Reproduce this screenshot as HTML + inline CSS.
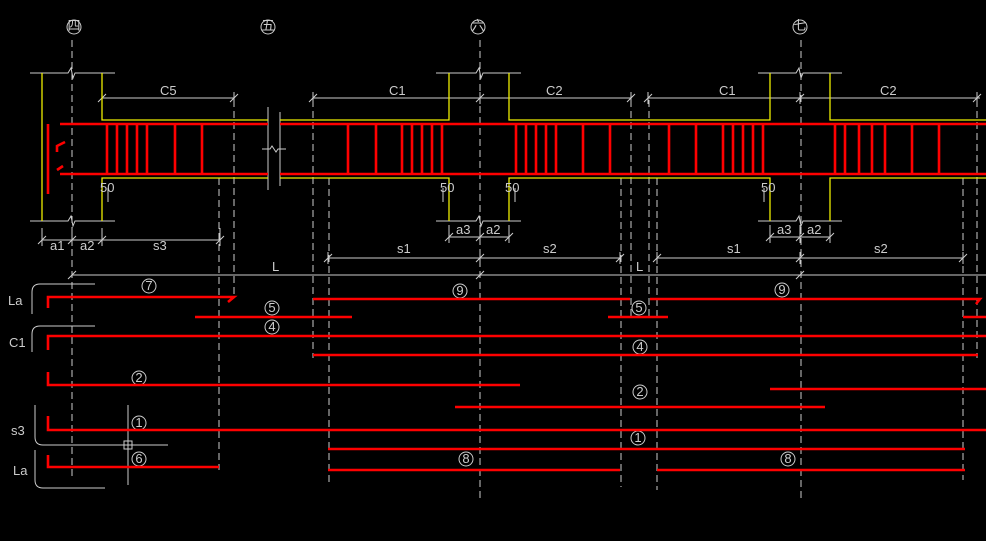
<!DOCTYPE html><html><head><style>html,body{margin:0;background:#000;}svg{display:block}text{font-family:"Liberation Sans","Noto Sans CJK SC",sans-serif;fill:#ccc;font-size:13px}</style></head><body>
<svg width="986" height="541" viewBox="0 0 986 541">
<g stroke="#ccc" stroke-width="1" fill="none">
<g stroke-dasharray="7,4">
<line x1="72" y1="40" x2="72" y2="480"/><line x1="480" y1="40" x2="480" y2="498"/><line x1="801" y1="40" x2="801" y2="498"/>
<line x1="234" y1="100" x2="234" y2="295"/><line x1="219" y1="178" x2="219" y2="470"/>
<line x1="313" y1="100" x2="313" y2="358"/><line x1="329" y1="178" x2="329" y2="482"/>
<line x1="621" y1="178" x2="621" y2="487"/><line x1="631" y1="100" x2="631" y2="318"/><line x1="649" y1="100" x2="649" y2="318"/><line x1="657" y1="178" x2="657" y2="490"/>
<line x1="963" y1="178" x2="963" y2="480"/><line x1="977" y1="100" x2="977" y2="358"/>
</g>
<circle cx="74" cy="27" r="7"/><circle cx="268" cy="27" r="7"/><circle cx="478" cy="27" r="7"/><circle cx="800" cy="27" r="7"/>
<path d="M30 73H68l3-5 2 10 2-5H115M30 221H68l3-5 2 10 2-5H115"/>
<path d="M436 73H476l3-5 2 10 2-5H521M436 221H476l3-5 2 10 2-5H521"/>
<path d="M758 73H796l3-5 2 10 2-5H842M758 221H796l3-5 2 10 2-5H842"/>
<line x1="268" y1="107" x2="268" y2="190"/><line x1="280" y1="112" x2="280" y2="186"/><path d="M262 149h8l2-3 4 6 2-3h8"/>
<line x1="102" y1="98" x2="234" y2="98"/><line x1="313" y1="98" x2="631" y2="98"/><line x1="648" y1="98" x2="980" y2="98"/>
<line x1="42" y1="240" x2="220" y2="240"/><line x1="449" y1="237" x2="509" y2="237"/><line x1="770" y1="237" x2="830" y2="237"/>
<line x1="328" y1="258" x2="620" y2="258"/><line x1="657" y1="258" x2="963" y2="258"/>
<line x1="72" y1="275" x2="986" y2="275"/>
<path d="M42 228v18M72 228v18M102 228v18M220 228v18M449 225v18M480 225v18M509 225v18M770 225v18M800 225v18M830 225v18"/>
<path d="M102 92v12M234 92v12M313 92v12M480 92v12M631 92v12M648 92v12M800 92v12M977 92v12"/>
<path d="M98 102l8-8M230 102l8-8M309 102l8-8M476 102l8-8M627 102l8-8M644 102l8-8M796 102l8-8M973 102l8-8"/>
<path d="M38 244l8-8M68 244l8-8M98 244l8-8M216 244l8-8M445 241l8-8M476 241l8-8M505 241l8-8M766 241l8-8M796 241l8-8M826 241l8-8"/>
<path d="M324 262l8-8M476 262l8-8M616 262l8-8M653 262l8-8M796 262l8-8M959 262l8-8M68 279l8-8M476 279l8-8M796 279l8-8"/>
<path d="M102 188v14M108 188v14M443 188v14M449 188v14M509 188v14M515 188v14M764 188v14M770 188v14"/>
<path d="M328 252v12M480 252v12M620 252v12M657 252v12M800 252v12M963 252v12"/>
<path d="M95 284H40q-8 0-8 8v22M95 326H40q-8 0-8 8v18M35 405v32q0 8 8 8h60M35 450v30q0 8 8 8h62"/>
<line x1="88" y1="445" x2="168" y2="445"/><line x1="128" y1="405" x2="128" y2="485"/><rect x="124" y="441" width="8" height="8"/>
<circle cx="149" cy="286" r="7"/><circle cx="460" cy="291" r="7"/><circle cx="782" cy="290" r="7"/>
<circle cx="272" cy="308" r="7"/><circle cx="639" cy="308" r="7"/><circle cx="272" cy="327" r="7"/><circle cx="640" cy="347" r="7"/>
<circle cx="139" cy="378" r="7"/><circle cx="640" cy="392" r="7"/><circle cx="139" cy="423" r="7"/><circle cx="638" cy="438" r="7"/>
<circle cx="139" cy="459" r="7"/><circle cx="466" cy="459" r="7"/><circle cx="788" cy="459" r="7"/>
</g>
<g stroke="#ee0" stroke-width="1.3" fill="none">
<path d="M42 73V221M102 73V120H268M102 221V178H268M280 120H449V73M280 178H449V221M509 73V120H770V73M509 221V178H770V221M830 73V120H986M830 221V178H986"/>
</g>
<g stroke="#f00" stroke-width="2.6" fill="none">
<path d="M60 124H268M280 124H986M48 124V194M60 174H268M280 174H986"/>
<path d="M57 152v-6l8-4M57 170l6-4"/>
<path d="M107 124v50M117 124v50M127 124v50M137 124v50M147 124v50M175 124v50M202 124v50"/>
<path d="M348 124v50M376 124v50M402 124v50M412 124v50M422 124v50M432 124v50M442 124v50"/>
<path d="M516 124v50M526 124v50M536 124v50M546 124v50M556 124v50M583 124v50M610 124v50"/>
<path d="M669 124v50M696 124v50M723 124v50M733 124v50M743 124v50M753 124v50M763 124v50"/>
<path d="M835 124v50M845 124v50M859 124v50M872 124v50M885 124v50M912 124v50M939 124v50"/>
<path d="M48 308V297H234l-6 5"/>
<path d="M313 299H630M650 299H980l-4 5"/>
<path d="M195 317H352M608 317H668M963 317H986"/>
<path d="M48 350V336H986"/>
<path d="M313 355H978"/>
<path d="M48 372V385H520"/>
<path d="M455 407H825M770 389H986"/>
<path d="M48 416V430H986"/>
<path d="M328 449H965"/>
<path d="M48 455V467H219M328 470H620M657 470H965"/>
</g>
<g font-size="8" text-anchor="middle"><text x="74" y="30">四</text><text x="268" y="30">五</text><text x="478" y="30">六</text><text x="800" y="30">七</text></g>
<text x="160" y="95">C5</text><text x="389" y="95">C1</text><text x="546" y="95">C2</text><text x="719" y="95">C1</text><text x="880" y="95">C2</text>
<text x="100" y="192">50</text><text x="440" y="192">50</text><text x="505" y="192">50</text><text x="761" y="192">50</text>
<text x="50" y="250">a1</text><text x="80" y="250">a2</text><text x="153" y="250">s3</text>
<text x="456" y="234">a3</text><text x="486" y="234">a2</text><text x="777" y="234">a3</text><text x="807" y="234">a2</text>
<text x="397" y="253">s1</text><text x="543" y="253">s2</text><text x="727" y="253">s1</text><text x="874" y="253">s2</text>
<text x="272" y="271">L</text><text x="636" y="271">L</text>
<text x="8" y="305" font-size="15">La</text><text x="9" y="347" font-size="15">C1</text><text x="11" y="435" font-size="15">s3</text><text x="13" y="475" font-size="15">La</text>
<g font-size="9" text-anchor="middle"><text x="149" y="290">7</text><text x="460" y="295">9</text><text x="782" y="294">9</text><text x="272" y="312">5</text><text x="639" y="312">5</text><text x="272" y="331">4</text><text x="640" y="351">4</text><text x="139" y="382">2</text><text x="640" y="396">2</text><text x="139" y="427">1</text><text x="638" y="442">1</text><text x="139" y="463">6</text><text x="466" y="463">8</text><text x="788" y="463">8</text></g>
</svg></body></html>
